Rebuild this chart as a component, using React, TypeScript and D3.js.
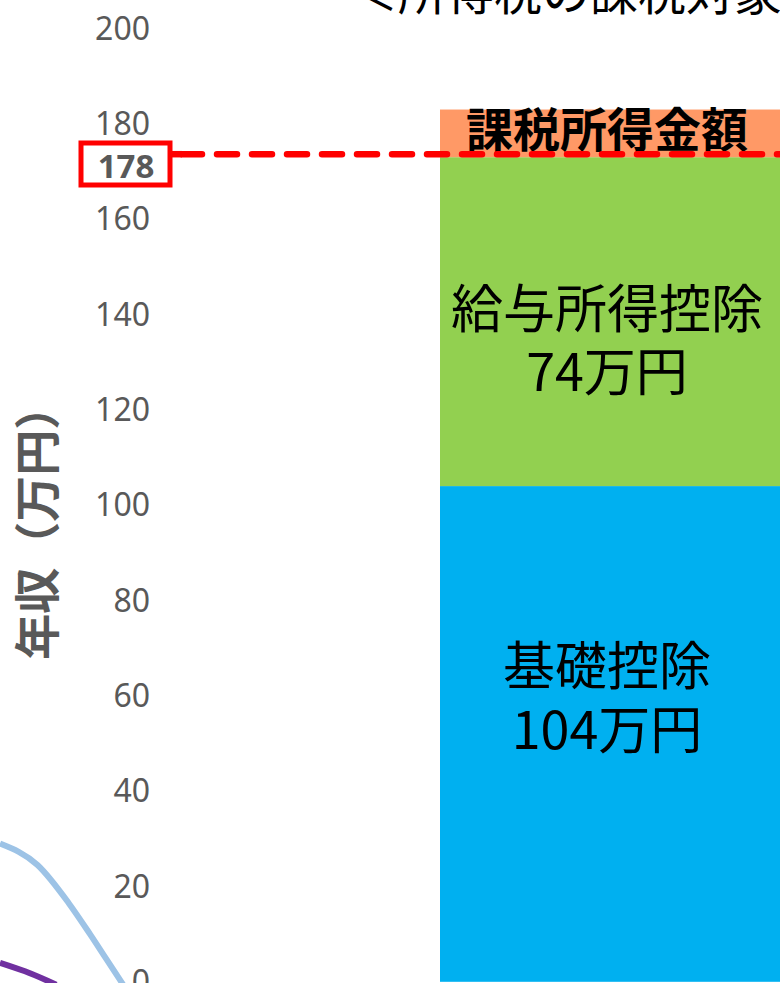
import React, { useEffect, useRef } from "react";
import * as d3 from "d3";

// stacked bar segments
const segments = ["基礎控除", "給与所得控除", "課税所得金額"];
const segmentValues = [104, 69, 10];
const segmentColors = ["#00B0F0", "#92D050", "#FF9966"];
const segmentLabels = [["基礎控除", "104万円"], ["給与所得控除", "74万円"], ["課税所得金額"]];

const yTicks = [0, 20, 40, 60, 80, 100, 120, 140, 160, 180, 200];
const markerLabel = "178";
const category = "給与収入";

// curves from the neighbouring panel (cut off at the left)
const blueCurveX = [0, 0.3, 0.55, 0.72, 0.85, 0.96, 1.02];
const blueCurveY = [29, 24.5, 16.5, 10, 4.8, 0.4, -2];
const purpleCurveX = [0, 0.2, 0.45];
const purpleCurveY = [4, 2.2, -0.6];

const W = 780;
const H = 983;

const App: React.FC = () => {
  const ref = useRef<SVGSVGElement | null>(null);

  useEffect(() => {
    if (!ref.current) return;
    const svg = d3.select(ref.current);
    svg.selectAll("*").remove();

    const y = d3.scaleLinear().domain([0, 200]).range([981.8, 28.5]);
    const x = d3.scaleBand().domain([category]).range([440, 774]).padding(0);
    const cx = d3.scaleLinear().domain([0, 1]).range([0, 125]);

    const jp = "'Noto Sans CJK JP', sans-serif";
    const gray = "#595959";

    // title (cut off at the top)
    svg
      .append("text")
      .attr("x", 350)
      .attr("y", 10)
      .style("font-family", jp)
      .style("font-size", "48px")
      .attr("fill", "#000")
      .text("＜所得税の課税対象となる金額＞");

    // y tick labels
    svg
      .append("g")
      .selectAll("text")
      .data(yTicks)
      .join("text")
      .attr("x", 150)
      .attr("y", (d) => y(d))
      .attr("dy", "0.35em")
      .attr("text-anchor", "end")
      .style("font-family", "'Noto Sans', sans-serif")
      .style("font-size", "32px")
      .attr("fill", gray)
      .text((d) => d);

    // y axis title
    svg
      .append("text")
      .attr("transform", `translate(38, ${y(96.5)}) rotate(-90)`)
      .attr("text-anchor", "middle")
      .attr("dy", "0.35em")
      .style("font-family", jp)
      .style("font-size", "46px")
      .style("font-weight", "bold")
      .attr("fill", gray)
      .text("年収（万円）");

    // curves
    const line = d3
      .line<[number, number]>()
      .x((d) => cx(d[0]))
      .y((d) => y(d[1]))
      .curve(d3.curveMonotoneX);
    svg
      .append("path")
      .attr("d", line(blueCurveX.map((v, i) => [v, blueCurveY[i]])))
      .attr("fill", "none")
      .attr("stroke", "#9DC3E6")
      .attr("stroke-width", 6);
    svg
      .append("path")
      .attr("d", line(purpleCurveX.map((v, i) => [v, purpleCurveY[i]])))
      .attr("fill", "none")
      .attr("stroke", "#7030A0")
      .attr("stroke-width", 6);

    // stacked bar
    const stacked = segmentValues.map((v, i) => {
      const y0 = d3.sum(segmentValues.slice(0, i));
      return { key: segments[i], y0, y1: y0 + v, color: segmentColors[i], label: segmentLabels[i] };
    });
    const bx = x(category) as number;
    const bw = x.bandwidth();
    const mid = bx + bw / 2;

    svg
      .append("g")
      .selectAll("rect")
      .data(stacked)
      .join("rect")
      .attr("x", bx)
      .attr("width", W - bx + 10)
      .attr("y", (d) => y(d.y1))
      .attr("height", (d) => y(d.y0) - y(d.y1))
      .attr("fill", (d) => d.color);

    // labels inside segments
    const blue = stacked[0];
    const green = stacked[1];
    const orange = stacked[2];
    const blueMid = y((blue.y0 + blue.y1) / 2) - 67;
    blue.label.forEach((t, i) => {
      svg
        .append("text")
        .attr("x", mid)
        .attr("y", blueMid + i * 64)
        .attr("text-anchor", "middle")
        .attr("dy", "0.35em")
        .style("font-family", jp)
        .style("font-size", "52px")
        .attr("fill", "#000")
        .text(t);
    });
    const greenMid = y((green.y0 + green.y1) / 2) - 12;
    green.label.forEach((t, i) => {
      svg
        .append("text")
        .attr("x", mid)
        .attr("y", greenMid + i * 63)
        .attr("text-anchor", "middle")
        .attr("dy", "0.35em")
        .style("font-family", jp)
        .style("font-size", "52px")
        .attr("fill", "#000")
        .text(t);
    });
    svg
      .append("text")
      .attr("x", mid)
      .attr("y", y(orange.y1) + 21)
      .attr("text-anchor", "middle")
      .attr("dy", "0.35em")
      .style("font-family", jp)
      .style("font-size", "47px")
      .style("font-weight", "bold")
      .attr("fill", "#000")
      .text(orange.label[0]);

    // dashed marker line at the top of the deductions
    const markerY = y(green.y1) - 3;
    svg
      .append("line")
      .attr("x1", 182)
      .attr("x2", W + 10)
      .attr("y1", markerY)
      .attr("y2", markerY)
      .attr("stroke", "#FF0000")
      .attr("stroke-width", 6.5)
      .attr("stroke-linecap", "round")
      .attr("stroke-dasharray", "20,15");

    // marker value box
    svg
      .append("rect")
      .attr("x", 81)
      .attr("y", 143)
      .attr("width", 89)
      .attr("height", 42)
      .attr("fill", "#fff")
      .attr("stroke", "#FF0000")
      .attr("stroke-width", 5);
    svg
      .append("line")
      .attr("x1", 170)
      .attr("x2", 182)
      .attr("y1", markerY)
      .attr("y2", markerY)
      .attr("stroke", "#FF0000")
      .attr("stroke-width", 6.5);
    svg
      .append("text")
      .attr("x", 126)
      .attr("y", 166)
      .attr("text-anchor", "middle")
      .attr("dy", "0.36em")
      .style("font-family", "'Noto Sans', sans-serif")
      .style("font-size", "33px")
      .style("font-weight", "bold")
      .attr("fill", gray)
      .text(markerLabel);
  }, []);

  return (
    <svg
      ref={ref}
      width={W}
      height={H}
      style={{ position: "absolute", left: 0, top: 0, background: "#fff" }}
    />
  );
};

export default App;
